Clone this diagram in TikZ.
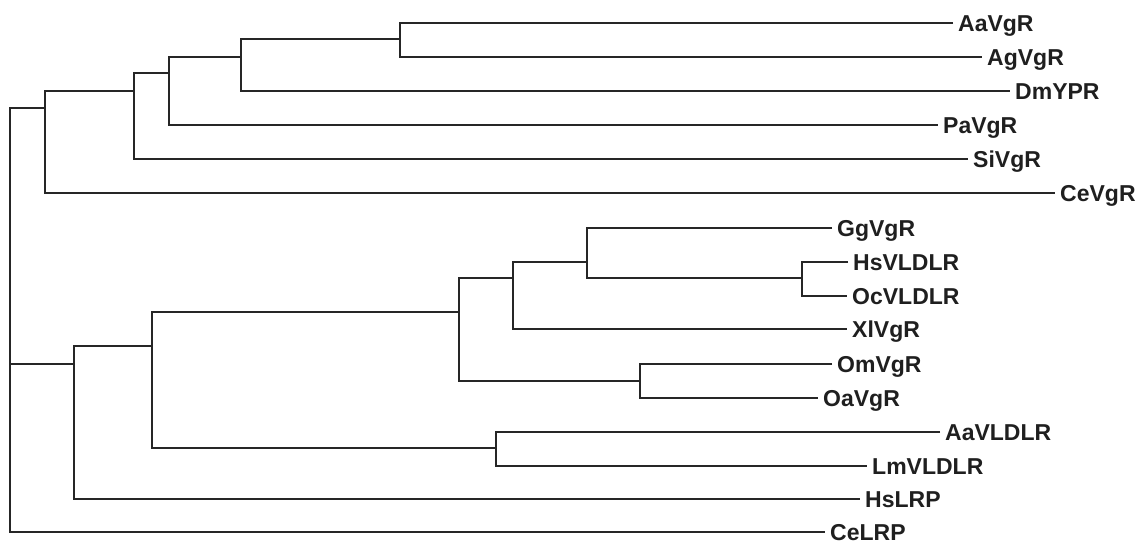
\documentclass[tikz,border=0pt]{standalone}
\usepackage{fontspec}
\setmainfont{Liberation Sans}
\begin{document}
\begin{tikzpicture}[x=1pt,y=-1pt,
  branch/.style={draw=black!85, line width=2pt, line join=miter},
  leaf/.style={anchor=west, inner xsep=5pt, inner ysep=0pt, text height=16.5pt, text depth=0pt,
    font=\fontsize{23}{23}\selectfont\bfseries, text=black!88}]
\useasboundingbox[fill=white] (0,0) rectangle (1146,543);
% leaves
\node[leaf] (aavgr) at (953,23) {AaVgR};
\node[leaf] (agvgr) at (982,57) {AgVgR};
\node[leaf] (dmypr) at (1010,91) {DmYPR};
\node[leaf] (pavgr) at (938,125) {PaVgR};
\node[leaf] (sivgr) at (968,159) {SiVgR};
\node[leaf] (cevgr) at (1055,193) {CeVgR};
\node[leaf] (ggvgr) at (832,228) {GgVgR};
\node[leaf] (hsvldlr) at (848,262) {HsVLDLR};
\node[leaf] (ocvldlr) at (847,296) {OcVLDLR};
\node[leaf] (xlvgr) at (847,329) {XlVgR};
\node[leaf] (omvgr) at (832,364) {OmVgR};
\node[leaf] (oavgr) at (818,398) {OaVgR};
\node[leaf] (aavldlr) at (940,432) {AaVLDLR};
\node[leaf] (lmvldlr) at (867,466) {LmVLDLR};
\node[leaf] (hslrp) at (860,499) {HsLRP};
\node[leaf] (celrp) at (825,532) {CeLRP};
% internal nodes
\coordinate (i1) at (400,39);
\coordinate (i2) at (241,57);
\coordinate (i3) at (169,73);
\coordinate (i4) at (134,91);
\coordinate (i5) at (45,108);
\coordinate (j1) at (802,278);
\coordinate (j2) at (587,262);
\coordinate (j3) at (513,278);
\coordinate (j4) at (640,381);
\coordinate (j5) at (459,312);
\coordinate (j6) at (496,448);
\coordinate (j7) at (152,346);
\coordinate (j8) at (74,364);
\coordinate (root) at (10,364);
% branches
\draw[branch] (aavgr.west) -| (i1) |- (agvgr.west);
\draw[branch] (i1) -| (i2) |- (dmypr.west);
\draw[branch] (i2) -| (i3) |- (pavgr.west);
\draw[branch] (i3) -| (i4) |- (sivgr.west);
\draw[branch] (i4) -| (i5) |- (cevgr.west);
\draw[branch] (hsvldlr.west) -| (j1) |- (ocvldlr.west);
\draw[branch] (ggvgr.west) -| (j2) |- (j1);
\draw[branch] (j2) -| (j3) |- (xlvgr.west);
\draw[branch] (omvgr.west) -| (j4) |- (oavgr.west);
\draw[branch] (j3) -| (j5) |- (j4);
\draw[branch] (aavldlr.west) -| (j6) |- (lmvldlr.west);
\draw[branch] (j5) -| (j7) |- (j6);
\draw[branch] (j7) -| (j8) |- (hslrp.west);
\draw[branch] (i5) -| (root) |- (celrp.west);
\draw[branch] (j8) -- (root);
\end{tikzpicture}
\end{document}
